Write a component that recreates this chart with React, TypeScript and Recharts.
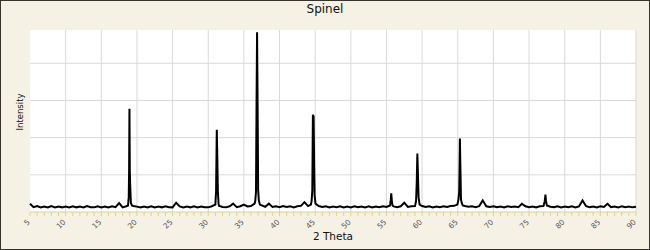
import { LineChart, Line, XAxis, YAxis, CartesianGrid } from 'recharts';

// baseline counts every 0.5 deg from 5 to 90
const baseStart = 5;
const baseStep = 0.5;
const baseline = [
  4.4, 2.6, 3.2, 2.4, 3.0, 2.5, 3.2, 2.4, 2.9, 2.5,
  3.0, 2.4, 3.1, 2.5, 2.9, 2.4, 3.2, 2.6, 2.5, 3.1,
  2.5, 3.0, 2.4, 3.1, 2.6, 4.8, 2.5, 3.1, 3.4, 3.2,
  2.9, 2.4, 3.0, 2.5, 3.1, 2.4, 2.9, 2.5, 3.1, 2.6,
  2.5, 5.0, 3.0, 2.4, 2.9, 2.5, 3.1, 2.4, 3.0, 2.6,
  2.5, 3.1, 3.5, 3.4, 2.7, 2.5, 3.1, 4.5, 2.6, 3.1,
  4.0, 3.0, 3.2, 4.5, 6.0, 3.6, 2.8, 4.5, 2.7, 3.1,
  2.6, 3.2, 2.7, 3.1, 2.5, 3.1, 3.3, 5.3, 3.2, 4.0,
  4.5, 3.2, 2.7, 3.1, 2.5, 3.0, 2.6, 3.1, 2.5, 3.0,
  2.5, 3.1, 2.6, 3.0, 2.4, 3.1, 2.5, 3.0, 2.6, 3.1,
  2.7, 3.5, 3.0, 2.6, 3.1, 5.0, 2.7, 3.1, 3.2, 8.0,
  3.2, 2.7, 3.1, 2.5, 3.0, 2.6, 3.1, 2.7, 3.2, 3.3,
  10, 5.0, 3.2, 2.8, 3.1, 2.6, 3.1, 6.2, 3.1, 2.7,
  3.1, 2.6, 3.0, 2.5, 3.1, 2.7, 3.0, 2.6, 4.4, 3.1,
  2.6, 3.0, 2.5, 3.1, 3.2, 3.5, 2.8, 2.6, 3.1, 2.5,
  3.0, 2.6, 3.1, 2.5, 3.0, 6.2, 3.1, 2.6, 3.0, 2.5,
  3.1, 2.7, 4.4, 2.6, 3.0, 2.5, 3.1, 2.6, 3.0, 2.5,
  2.8,
];

// reflections, sampled finer
const peakAngles = [
  [18.75, 18.85, 18.9, 18.95, 19.0, 19.05, 19.15, 19.3],
  [31.0, 31.1, 31.2, 31.28, 31.35, 31.45],
  [36.5, 36.6, 36.7, 36.78, 36.85, 36.92, 37.0, 37.1, 37.25],
  [44.4, 44.5, 44.6, 44.68, 44.78, 44.85, 44.92, 45.05],
  [55.5, 55.6, 55.67, 55.75, 55.85],
  [59.05, 59.15, 59.25, 59.33, 59.42, 59.5, 59.65],
  [64.95, 65.1, 65.2, 65.25, 65.3, 65.35, 65.45, 65.55, 65.7],
  [77.05, 77.2, 77.3, 77.38, 77.5],
];
const peakValues = [
  [3.5, 8, 22, 55.5, 22, 14.8, 5, 3.5],
  [4, 11.2, 44.3, 27.7, 11, 4.5],
  [4.5, 6, 10.9, 60.4, 96.7, 60.4, 12, 6, 4],
  [4, 6, 11.6, 52.3, 51.4, 27.3, 8.9, 4.5],
  [3.5, 6.5, 10, 6, 3.5],
  [4, 5.8, 16.2, 31.4, 19.3, 8, 4],
  [4, 6.8, 10.7, 23.4, 39.5, 28.2, 6.8, 5, 3.5],
  [3.5, 5.8, 9.4, 5.8, 3.5],
];

const xMajor = [5, 10, 15, 20, 25, 30, 35, 40, 45, 50, 55, 60, 65, 70, 75, 80, 85, 90];
const xTicks = Array.from({ length: 86 }, (_, i) => 5 + i);
const yTicks = [0, 10, 20, 30, 40, 50, 60, 70, 80, 90];
const yGrid = [20, 40, 60, 80];

const points: { x: number; y: number }[] = [];
baseline.forEach((v, i) => {
  const a = baseStart + i * baseStep;
  const inPeak = peakAngles.some((p) => a >= p[0] && a <= p[p.length - 1]);
  if (!inPeak) points.push({ x: a, y: v });
});
peakAngles.forEach((p, k) => p.forEach((a, j) => points.push({ x: a, y: peakValues[k][j] })));
points.sort((a, b) => a.x - b.x);

const AXIS = '#ddd48c';
const FONT = '"DejaVu Sans", Verdana, sans-serif';

function XTick({ x, y, payload }: any) {
  const major = payload.value % 5 === 0;
  const px = x + 0.5;
  const py = y + 10.5;
  return (
    <g>
      <line x1={x} y1={y} x2={x} y2={y + 4} stroke={AXIS} />
      {major && (
        <text
          x={px}
          y={py}
          transform={`rotate(-45 ${px} ${py})`}
          textAnchor="end"
          fontSize={7.5}
          fontFamily={FONT}
          fill="#555"
        >
          {payload.value}
        </text>
      )}
    </g>
  );
}

function YTick({ x, y, payload }: any) {
  const major = payload.value % 20 === 0;
  return <line x1={x} y1={y} x2={x + (major ? 6 : 4)} y2={y} stroke={AXIS} />;
}

export default function App() {
  return (
    <div
      style={{
        position: 'fixed',
        left: 0,
        top: 0,
        width: 650,
        height: 250,
        background: '#f5f2e5',
        border: '1px solid #35332c',
        boxSizing: 'border-box',
        fontFamily: FONT,
      }}
    >
      <div style={{ position: 'absolute', left: -1, top: -1 }}>
        <LineChart width={650} height={250} data={points} margin={{ top: 30, right: 14, bottom: 0, left: 30 }}>
          <CartesianGrid
            stroke="#d9d9d9"
            fill="#ffffff"
            horizontalValues={yGrid}
            verticalValues={xMajor.slice(1)}
          />
          <XAxis
            dataKey="x"
            type="number"
            domain={[5, 90]}
            ticks={xTicks}
            interval={0}
            height={38}
            tickSize={0}
            tickMargin={0}
            tickLine={false}
            axisLine={{ stroke: AXIS }}
            tick={<XTick />}
          />
          <YAxis
            type="number"
            domain={[0, 97.9]}
            ticks={yTicks}
            interval={0}
            width={0}
            tickSize={0}
            tickMargin={0}
            tickLine={false}
            axisLine={{ stroke: AXIS }}
            tick={<YTick />}
          />
          <Line
            dataKey="y"
            type="linear"
            stroke="#000"
            strokeWidth={2}
            dot={false}
            isAnimationActive={false}
          />
        </LineChart>
        <svg width={650} height={250} style={{ position: 'absolute', left: 0, top: 0, pointerEvents: 'none' }}>
          <text x={325} y={13} textAnchor="middle" fontSize={12} fontFamily={FONT} fill="#111">
            Spinel
          </text>
          <text x={333} y={240} textAnchor="middle" fontSize={10.5} fontFamily={FONT} fill="#111">
            2 Theta
          </text>
          <text
            x={23}
            y={112}
            transform="rotate(-90 23 112)"
            textAnchor="middle"
            fontSize={8.5}
            fontFamily={FONT}
            fill="#111"
          >
            Intensity
          </text>
        </svg>
      </div>
    </div>
  );
}
